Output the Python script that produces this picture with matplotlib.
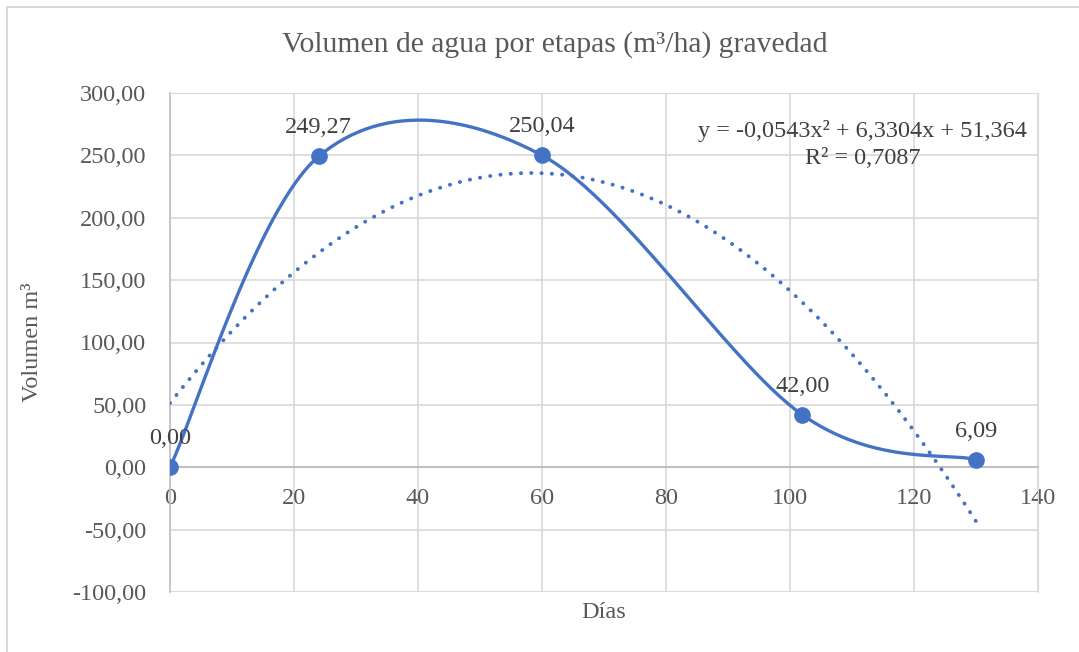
import matplotlib.pyplot as plt
import numpy as np
from matplotlib.patches import Rectangle

# Données
dias = [0, 24, 60, 102, 130]
volumen = [0.00, 249.27, 250.04, 42.00, 6.09]
etiquetas = ["0,00", "249,27", "250,04", "42,00", "6,09"]
coef_tendencia = [-0.0543, 6.3304, 51.364]  # y = a x² + b x + c
r2 = 0.7087
x_ticks = [0, 20, 40, 60, 80, 100, 120, 140]
y_ticks = [-100, -50, 0, 50, 100, 150, 200, 250, 300]

azul = "#4472C4"
gris_texto = "#595959"

plt.rcParams['font.family'] = ['Liberation Serif', 'DejaVu Serif']


def courbe_lisse(xs, ys, n=60):
    """Spline de type Catmull-Rom (lissage façon Excel)."""
    pts = np.column_stack([xs, ys]).astype(float)
    pts_ext = np.vstack([pts[0], pts, pts[-1]])
    sortie = []
    for i in range(1, len(pts_ext) - 2):
        p0, p1, p2, p3 = pts_ext[i - 1], pts_ext[i], pts_ext[i + 1], pts_ext[i + 2]
        c1 = p1 + (p2 - p0) / 6
        c2 = p2 - (p3 - p1) / 6
        t = np.linspace(0, 1, n)[:, None]
        seg = ((1 - t) ** 3) * p1 + 3 * ((1 - t) ** 2) * t * c1 + 3 * (1 - t) * t ** 2 * c2 + t ** 3 * p2
        sortie.append(seg)
    sortie = np.vstack(sortie)
    return sortie[:, 0], sortie[:, 1]


fig = plt.figure(figsize=(10.79, 6.52), dpi=100)
ax = fig.add_axes([170 / 1079, 1 - 592 / 652, (1038 - 170) / 1079, (592 - 93) / 652])

# Cadre du graphique (seuls les bords gauche et haut sont visibles)
fig.patches.append(Rectangle((7 / 1079, -0.1), 1.2, 1.1 - 7 / 652, transform=fig.transFigure,
                             fill=False, edgecolor="#D9D9D9", linewidth=1.5))

ax.set_xlim(0, 140)
ax.set_ylim(-100, 300)
ax.set_xticks(x_ticks)
ax.set_yticks(y_ticks)
ax.set_yticklabels([f"{v:.2f}".replace(".", ",") for v in y_ticks])
ax.grid(True, color="#D9D9D9", linewidth=1.2)
ax.set_axisbelow(True)
for cote in ['top', 'right']:
    ax.spines[cote].set_color("#D9D9D9")
ax.spines['bottom'].set_position(('data', 0))
ax.spines['bottom'].set_color("#BFBFBF")
ax.spines['bottom'].set_linewidth(1.5)
ax.spines['left'].set_color("#BFBFBF")
ax.spines['left'].set_linewidth(1.2)
ax.axhline(-100, color="#D9D9D9", linewidth=1.2, zorder=0)
ax.tick_params(length=0, labelsize=17.5, labelcolor=gris_texto)
ax.tick_params(axis='x', pad=15)
ax.tick_params(axis='y', pad=17)

# Courbe lissée et points
xs, ys = courbe_lisse(dias, volumen)
ax.plot(xs, ys, color=azul, linewidth=2.4, zorder=3)
ax.plot(dias, volumen, 'o', color=azul, markersize=11, zorder=4)

# Tendance polynomiale
xt = np.linspace(dias[0], dias[-1], 200)
yt = np.polyval(coef_tendencia, xt)
ax.plot(xt, yt, color=azul, linewidth=2.8, dashes=(0.05, 2.6), dash_capstyle='round', zorder=3)

# Étiquettes de données
for x, y, txt in zip(dias, volumen, etiquetas):
    ax.annotate(txt, (x, y), xytext=(0, 13), textcoords='offset points', ha='center', va='bottom',
                fontsize=17.5, color="#404040", zorder=5)

eq = "y = {:.4f}x² + {:.4f}x + {:.3f}".format(*coef_tendencia).replace(".", ",")
ax.text(0.798, 0.946, eq + "\n" + f"R² = {r2:.4f}".replace(".", ","), transform=ax.transAxes,
        ha='center', va='top', fontsize=17.5, color="#404040", linespacing=1.38)

ax.set_xlabel("Días", fontsize=17.5, color=gris_texto)
ax.xaxis.set_label_coords(0.5, -0.021)
ax.set_ylabel("Volumen m³", fontsize=17.5, color=gris_texto)
ax.yaxis.set_label_coords(-0.146, 0.5)
fig.text(555 / 1079, 1 - 45 / 652, "Volumen de agua por etapas (m³/ha) gravedad", fontsize=21.3,
         color=gris_texto, ha='center', va='center')

plt.savefig("out.png", dpi=100, facecolor='white')
plt.close()
